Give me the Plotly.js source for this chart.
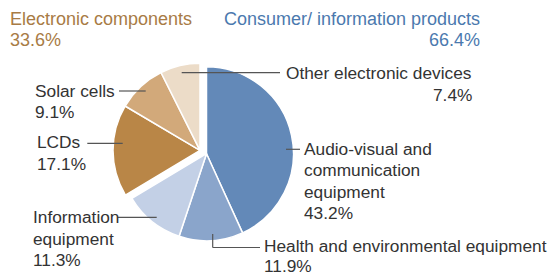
<!DOCTYPE html>
<html>
<head>
<meta charset="utf-8">
<script src="https://cdn.plot.ly/plotly-3.0.1.min.js"></script>
<style>html,body{margin:0;padding:0;background:#fff;}#chart{width:551px;height:276px;}</style>
</head>
<body>
<div id="chart"></div>
<script>
// ---- data ----
var groupNames = ['Consumer/ information products', 'Electronic components'];
var consumerLabels = ['Audio-visual and communication equipment', 'Health and environmental equipment', 'Information equipment'];
var consumerValues = [43.2, 11.9, 11.3];
var componentLabels = ['Other electronic devices', 'Solar cells', 'LCDs'];
var componentValues = [7.4, 9.1, 17.1];
// how each label is broken into lines
var consumerLines = [['Audio-visual and', 'communication', 'equipment'], ['Health and environmental equipment'], ['Information', 'equipment']];
var componentLines = [['Other electronic devices'], ['Solar cells'], ['LCDs']];

// ---- styles ----
var consumerColors = ['#6389b8', '#8aa5cb', '#c3d0e6'];
var componentColors = ['#ecdcc8', '#d2a97a', '#b98647'];
var groupColors = ['#4b79ae', '#a87b45'];
var FONT = 'Liberation Sans, Arial, Helvetica, sans-serif';
var W = 551, H = 276;
function px(x) { return x / W; }
function py(y) { return 1 - y / H; }
function sum(a) { return a.reduce(function (s, v) { return s + v; }, 0); }
function pct(v) { return v.toFixed(1) + '%'; }
function dom(cx, cy, r) { return { x: [px(cx - r), px(cx + r)], y: [py(cy + r), py(cy - r)] }; }

var consumerTotal = sum(consumerValues);
var componentTotal = sum(componentValues);
var R = 87;

// components drawn clockwise from 12 o'clock after an invisible slice the size of the consumer group
var compRevLabels = componentLabels.slice().reverse();
var compRevValues = componentValues.slice().reverse();
var compRevColors = componentColors.slice().reverse();

var traces = [
  {
    type: 'pie', sort: false, direction: 'clockwise', rotation: 0,
    labels: consumerLabels.concat(['_rest']),
    values: consumerValues.concat([componentTotal]),
    marker: { colors: consumerColors.concat(['rgba(0,0,0,0)']), line: { color: '#ffffff', width: [1.5, 1.5, 1.5, 0] } },
    textinfo: 'none', hoverinfo: 'none', showlegend: false,
    domain: dom(206.5, 153.7, R)
  },
  {
    type: 'pie', sort: false, direction: 'clockwise', rotation: 0,
    labels: ['_rest2'].concat(compRevLabels),
    values: [consumerTotal].concat(compRevValues),
    marker: { colors: ['rgba(0,0,0,0)'].concat(compRevColors), line: { color: '#ffffff', width: [0, 1.5, 1.5, 1.5] } },
    textinfo: 'none', hoverinfo: 'none', showlegend: false,
    domain: dom(200, 150.3, R)
  }
];

var annotations = [];
function addText(lines, x, y0, pitch, anchor, color, size, pad) {
  lines.forEach(function (t, i) {
    annotations.push({
      xref: 'paper', yref: 'paper', x: px(x), y: py(y0 + i * pitch - 0.35 * size),
      xanchor: anchor, yanchor: 'middle', showarrow: false, text: t,
      borderpad: pad === undefined ? 1 : pad,
      font: { family: FONT, size: size, color: color }
    });
  });
}
var LS = 17.3, LP = 21.5;
// group titles
addText([groupNames[1], pct(componentTotal)], 7.5, 25, 21, 'left', groupColors[1], 18);
addText([groupNames[0]], 482, 25, 21, 'right', groupColors[0], 18);
addText([pct(consumerTotal)], 482, 46, 21, 'right', groupColors[0], 18);
// slice labels
addText(consumerLines[0].concat([pct(consumerValues[0])]), 302, 155, LP, 'left', '#333333', LS);
addText(consumerLines[1], 263, 252.5, LP, 'left', '#333333', LS, 0);
addText([pct(consumerValues[1])], 263, 272, LP, 'left', '#333333', LS, 0);
addText(consumerLines[2].concat([pct(consumerValues[2])]), 31, 223.3, LP, 'left', '#333333', LS);
addText(componentLines[2].concat([pct(componentValues[2])]), 35, 148.3, LP, 'left', '#333333', LS);
addText(componentLines[1].concat([pct(componentValues[1])]), 33, 96.7, LP, 'left', '#333333', LS);
addText(componentLines[0], 284, 78.7, LP, 'left', '#333333', LS);
addText([pct(componentValues[0])], 473.5, 100.7, LP, 'right', '#333333', LS);

// leader lines
var LC = '#555555';
function seg(x0, y0, x1, y1) {
  return { type: 'line', xref: 'paper', yref: 'paper', x0: px(x0), y0: py(y0), x1: px(x1), y1: py(y1), line: { color: LC, width: 1.2 } };
}
var shapes = [
  seg(181.7, 72.7, 280, 72.7),
  seg(286, 149.3, 300, 149.3),
  seg(212.7, 234, 212.7, 247.5),
  seg(212.7, 247.5, 260, 247.5),
  seg(118, 217.3, 156.7, 217.3),
  seg(87.3, 143.3, 122.7, 143.3),
  seg(119, 91, 145.7, 91)
];

var layout = {
  width: W, height: H,
  margin: { l: 0, r: 0, t: 0, b: 0 },
  paper_bgcolor: '#ffffff', plot_bgcolor: '#ffffff',
  showlegend: false,
  annotations: annotations,
  shapes: shapes
};
Plotly.newPlot('chart', traces, layout, { displayModeBar: false, staticPlot: true });
</script>
</body>
</html>
